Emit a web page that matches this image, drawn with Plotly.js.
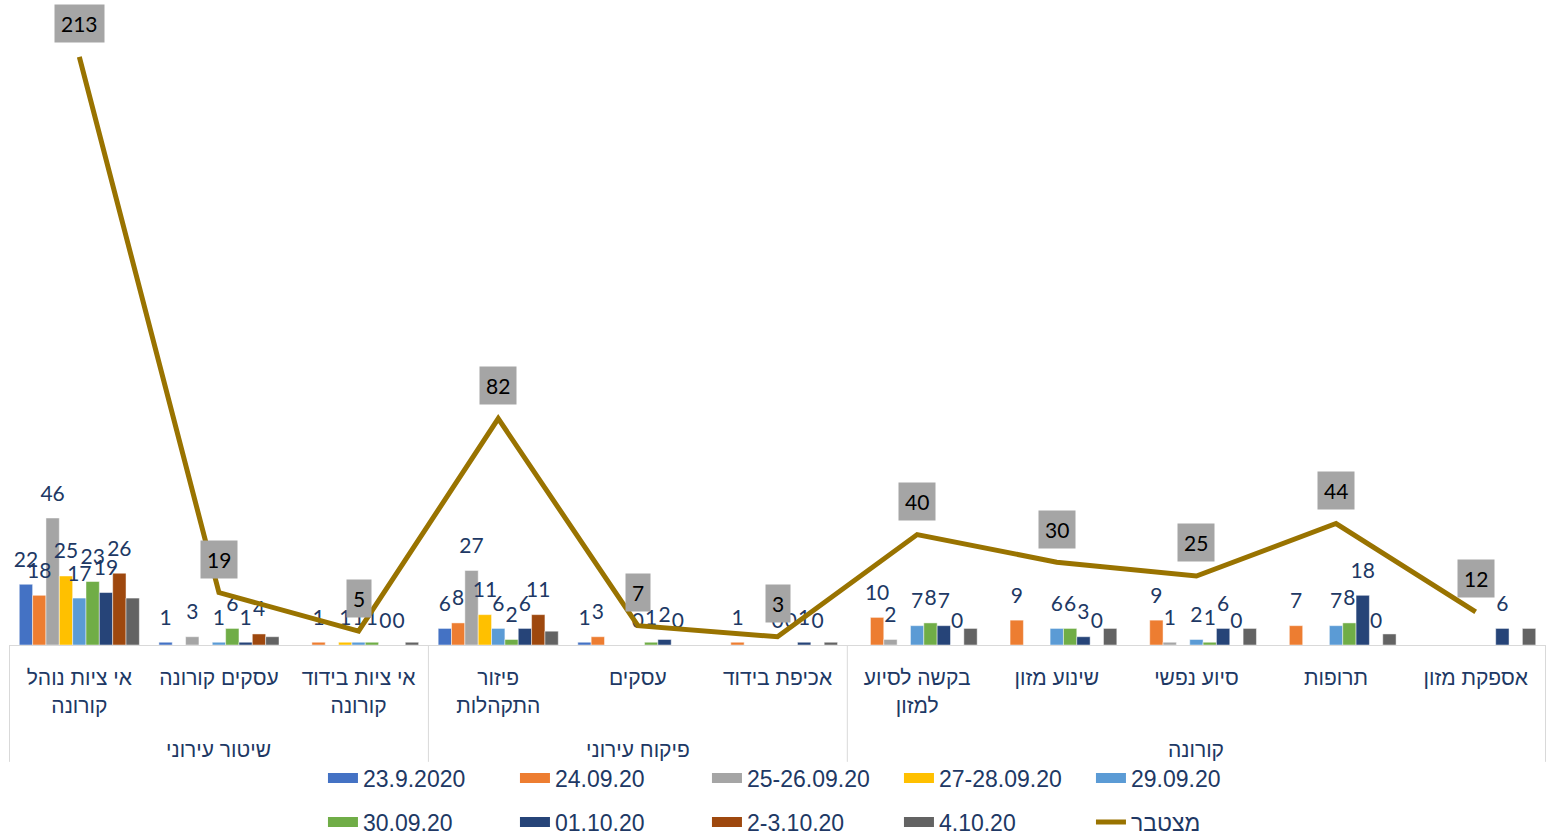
<!DOCTYPE html>
<html>
<head>
<meta charset="utf-8">
<script src="https://cdn.plot.ly/plotly-3.0.1.min.js"></script>
<style>html,body{margin:0;padding:0;background:#fff;}#chart{width:1546px;height:837px;}</style>
</head>
<body>
<div id="chart"></div>
<script>
// ---- data ----
const groups = ['שיטור עירוני','שיטור עירוני','שיטור עירוני','פיקוח עירוני','פיקוח עירוני','פיקוח עירוני','קורונה','קורונה','קורונה','קורונה','קורונה'];
const categories = ['אי ציות נוהל<br>קורונה','עסקים קורונה','אי ציות בידוד<br>קורונה','פיזור<br>התקהלות','עסקים','אכיפת בידוד','בקשה לסיוע<br>למזון','שינוע מזון','סיוע נפשי','תרופות','אספקת מזון'];
const seriesNames = ['23.9.2020','24.09.20','25-26.09.20','27-28.09.20','29.09.20','30.09.20','01.10.20','2-3.10.20','4.10.20'];
const s_23_09 = [22, 1, null, 6, 1, null, null, null, null, null, null];
const s_24_09 = [18, null, 1, 8, 3, 1, 10, 9, 9, 7, null];
const s_25_26_09 = [46, 3, null, 27, null, null, 2, null, 1, null, null];
const s_27_28_09 = [25, null, 1, 11, null, null, null, null, null, null, null];
const s_29_09 = [17, 1, 1, 6, 0, 0, 7, 6, 2, 7, null];
const s_30_09 = [23, 6, 1, 2, 1, 0, 8, 6, 1, 8, null];
const s_01_10 = [19, 1, 0, 6, 2, 1, 7, 3, 6, 18, 6];
const s_02_03_10 = [26, 4, 0, 11, 0, 0, 0, 0, 0, 0, null];
const s_04_10 = [17, 3, 1, 5, 0, 1, 6, 6, 6, 4, 6];
const cumulativeName = 'מצטבר';
const cumulative = [213, 19, 5, 82, 7, 3, 40, 30, 25, 44, 12];
const showLabels = [true, true, true, true, true, true, true, true, false];

// ---- styles ----
const colors = ['#4472C4','#ED7D31','#A5A5A5','#FFC000','#5B9BD5','#70AD47','#264478','#9E480E','#636363'];
const navy = '#203864';
const arial = "'Liberation Sans', Arial, sans-serif";
const numFont = "Lato, Carlito, Calibri, sans-serif";
const LABEL_LIFT = 3.8;      // label clearance above bar, in axis units (style)
const GROUP_LABEL_Y = -0.164; // paper y of group labels (style)
const DIVIDER_BOTTOM = -0.184;

const allSeries = [s_23_09, s_24_09, s_25_26_09, s_27_28_09, s_29_09, s_30_09, s_01_10, s_02_03_10, s_04_10];

const traces = [];
allSeries.forEach((vals, i) => {
  traces.push({
    type: 'bar', name: seriesNames[i], x: categories, y: vals,
    marker: {color: colors[i], line: {color: 'rgba(255,255,255,0.6)', width: 0.8}},
    offsetgroup: 'g' + i, showlegend: false, hoverinfo: 'x+y+name'
  });
});
// data labels: transparent bars sitting on top of each bar, sharing its slot
allSeries.forEach((vals, i) => {
  if (!showLabels[i]) return;
  traces.push({
    type: 'bar', x: categories, base: vals,
    y: vals.map(v => v === null ? null : LABEL_LIFT),
    text: vals.map(v => v === null ? '' : String(v)),
    textposition: 'outside', constraintext: 'none', cliponaxis: false,
    textfont: {family: numFont, size: 21, color: navy},
    marker: {color: 'rgba(0,0,0,0)'},
    offsetgroup: 'g' + i, showlegend: false, hoverinfo: 'skip'
  });
});
// legend keys (wide colour bars like the original legend)
allSeries.forEach((vals, i) => {
  traces.push({
    type: 'scatter', mode: 'lines', name: seriesNames[i], x: categories,
    y: vals.map(() => null),
    line: {color: colors[i], width: 12},
    legend: i < 5 ? 'legend' : 'legend2', hoverinfo: 'skip'
  });
});
traces.push({
  type: 'scatter', mode: 'lines', name: cumulativeName, x: categories, y: cumulative,
  line: {color: '#997300', width: 5}, legend: 'legend2', cliponaxis: false
});

// line value boxes
const annotations = cumulative.map((v, i) => ({
  x: categories[i], y: v, xref: 'x', yref: 'y', text: String(v), showarrow: false,
  yanchor: 'middle', yshift: 33, bgcolor: '#A5A5A5', borderpad: 6,
  font: {family: numFont, size: 21, color: '#000'}
}));

// group labels and dividers derived from the groups array
const shapes = [];
let start = 0;
for (let i = 1; i <= groups.length; i++) {
  if (i === groups.length || groups[i] !== groups[start]) {
    annotations.push({
      x: (start + i - 1) / 2, xref: 'x', y: GROUP_LABEL_Y, yref: 'paper',
      text: groups[start], showarrow: false, yanchor: 'middle',
      font: {family: arial, size: 21, color: navy}
    });
    shapes.push({
      type: 'line', xref: 'x', yref: 'paper', x0: start - 0.5, x1: start - 0.5,
      y0: 0, y1: DIVIDER_BOTTOM, line: {color: '#D9D9D9', width: 1}
    });
    start = i;
  }
}
shapes.push({
  type: 'line', xref: 'x', yref: 'paper', x0: groups.length - 0.5, x1: groups.length - 0.5,
  y0: 0, y1: DIVIDER_BOTTOM, line: {color: '#D9D9D9', width: 1}
});

const legendCommon = {
  orientation: 'h', xref: 'container', yref: 'container', x: 0.2089, xanchor: 'left', yanchor: 'middle',
  entrywidth: 147, font: {family: arial, size: 23, color: navy}, bgcolor: 'rgba(0,0,0,0)'
};

const layout = {
  width: 1546, height: 837,
  margin: {l: 9, r: 0, t: 10, b: 192, autoexpand: false},
  paper_bgcolor: '#fff', plot_bgcolor: '#fff',
  barmode: 'group', bargap: 0.14, bargroupgap: 0,
  showlegend: true,
  xaxis: {
    type: 'category', showgrid: false, zeroline: false, automargin: false,
    showline: true, linecolor: '#D9D9D9', linewidth: 1,
    ticks: '', ticklabelstandoff: 14,
    tickfont: {family: arial, size: 21, color: navy}
  },
  yaxis: {range: [0, 230], visible: false, showgrid: false, zeroline: false},
  legend: Object.assign({}, legendCommon, {y: 0.0705}),
  legend2: Object.assign({}, legendCommon, {y: 0.0179}),
  annotations: annotations,
  shapes: shapes
};

Plotly.newPlot('chart', traces, layout, {displayModeBar: false, staticPlot: true});
</script>
</body>
</html>
